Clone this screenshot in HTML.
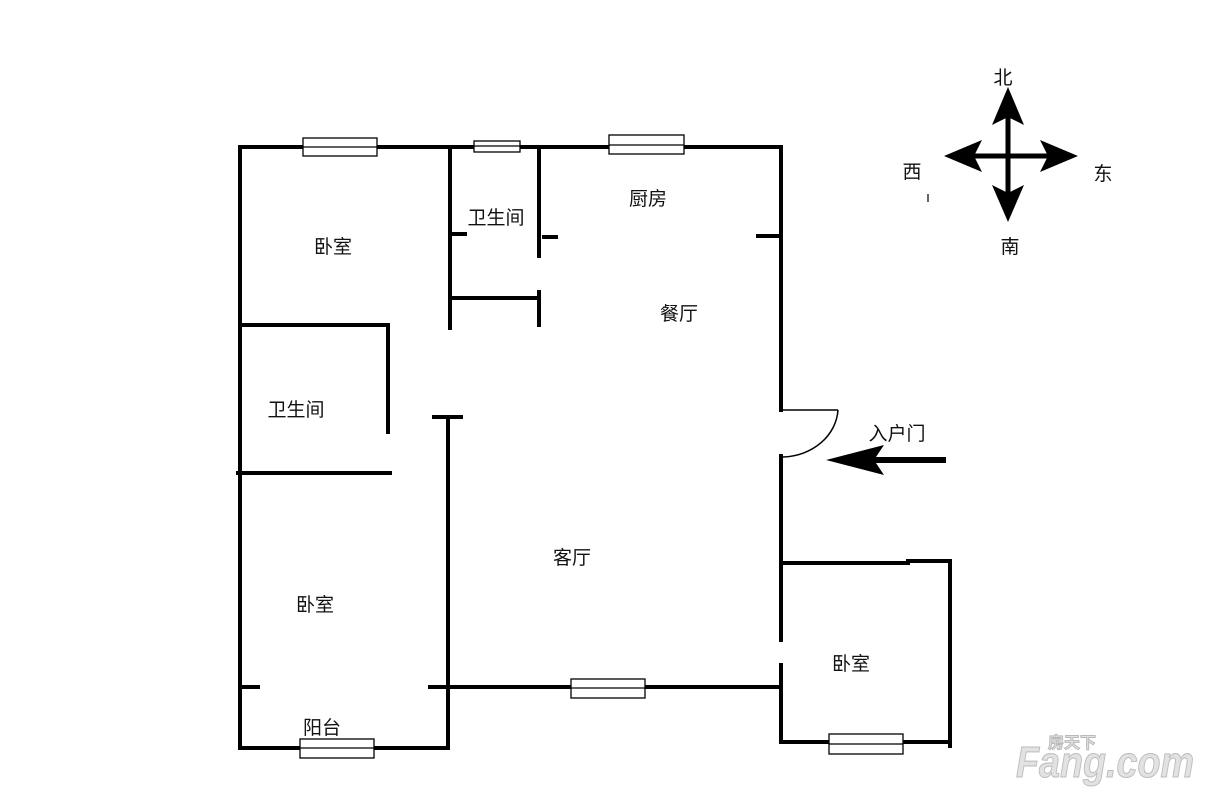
<!DOCTYPE html>
<html><head><meta charset="utf-8"><style>
html,body{margin:0;padding:0;background:#fff;}
svg{display:block}
text{font-family:"Liberation Sans","Noto Sans CJK SC",sans-serif;fill:#111;}
</style></head><body>
<svg width="1212" height="800" viewBox="0 0 1212 800" xmlns="http://www.w3.org/2000/svg">
<g stroke="#000" stroke-width="4" fill="none" stroke-linecap="square">
<line x1="240" y1="147" x2="781" y2="147"/>
<line x1="240" y1="147" x2="240" y2="748"/>
<line x1="450" y1="147" x2="450" y2="328"/>
<line x1="539" y1="147" x2="539" y2="256"/>
<line x1="539" y1="292" x2="539" y2="325"/>
<line x1="450" y1="234" x2="465" y2="234"/>
<line x1="544" y1="237" x2="556" y2="237"/>
<line x1="450" y1="298" x2="539" y2="298"/>
<line x1="781" y1="147" x2="781" y2="410"/>
<line x1="758" y1="236" x2="781" y2="236"/>
<line x1="781" y1="456" x2="781" y2="640"/>
<line x1="781" y1="665" x2="781" y2="742"/>
<line x1="244" y1="325" x2="388" y2="325"/>
<line x1="388" y1="325" x2="388" y2="432"/>
<line x1="238" y1="473" x2="390" y2="473"/>
<line x1="448" y1="417" x2="448" y2="748"/>
<line x1="434" y1="417" x2="461" y2="417"/>
<line x1="240" y1="687" x2="258" y2="687"/>
<line x1="430" y1="687" x2="781" y2="687"/>
<line x1="240" y1="748" x2="448" y2="748"/>
<line x1="781" y1="563" x2="908" y2="563"/>
<line x1="908" y1="561" x2="947" y2="561"/>
<line x1="950" y1="561" x2="950" y2="746"/>
<line x1="781" y1="742" x2="950" y2="742"/>
</g>
<g stroke="#000" stroke-width="1.5" fill="none">
<line x1="781" y1="410" x2="838" y2="410"/>
<path d="M838 410 A57 50 0 0 1 783 457"/>
</g>
<g stroke="#000" stroke-width="1.3" fill="#fff">
<rect x="303" y="138" width="74" height="18"/><line x1="303" y1="147" x2="377" y2="147"/>
<rect x="474" y="141" width="46" height="11"/><line x1="474" y1="146" x2="520" y2="146"/>
<rect x="609" y="135" width="75" height="19"/><line x1="609" y1="145" x2="684" y2="145"/>
<rect x="571" y="679" width="74" height="19"/><line x1="571" y1="688" x2="645" y2="688"/>
<rect x="300" y="739" width="74" height="19"/><line x1="300" y1="748" x2="374" y2="748"/>
<rect x="829" y="734" width="74" height="20"/><line x1="829" y1="744" x2="903" y2="744"/>
</g>
<line x1="870" y1="460" x2="946" y2="460" stroke="#000" stroke-width="6"/>
<polygon points="826,460 884,445 874,460 884,475" fill="#000"/>
<g fill="#000">
<line x1="1008" y1="110" x2="1008" y2="200" stroke="#000" stroke-width="5"/>
<line x1="965" y1="156" x2="1055" y2="156" stroke="#000" stroke-width="5"/>
<polygon points="1008,87 1024,125 1008,117 992,125"/>
<polygon points="1008,222 1024,185 1008,193 992,185"/>
<polygon points="944,156 982,140 974,156 982,172"/>
<polygon points="1078,156 1040,140 1048,156 1040,172"/>
</g>
<line x1="928" y1="194" x2="928" y2="202" stroke="#333" stroke-width="1.5"/>
<g font-size="19">
<text x="1003" y="84" text-anchor="middle">北</text>
<text x="1010" y="253" text-anchor="middle">南</text>
<text x="912" y="178" text-anchor="middle">西</text>
<text x="1103" y="180" text-anchor="middle">东</text>
<text x="333" y="253" text-anchor="middle">卧室</text>
<text x="496" y="224" text-anchor="middle">卫生间</text>
<text x="648" y="205" text-anchor="middle">厨房</text>
<text x="679" y="320" text-anchor="middle">餐厅</text>
<text x="296" y="416" text-anchor="middle">卫生间</text>
<text x="572" y="564" text-anchor="middle">客厅</text>
<text x="315" y="611" text-anchor="middle">卧室</text>
<text x="851" y="670" text-anchor="middle">卧室</text>
<text x="322" y="734" text-anchor="middle">阳台</text>
<text x="897" y="440" text-anchor="middle">入户门</text>
</g>
<g stroke="#bbb" stroke-width="1">
<text x="1016" y="777" font-size="44" font-weight="bold" font-style="italic" textLength="178" lengthAdjust="spacingAndGlyphs" style="fill:#e2e2e2">Fang.com</text>
<text x="1048" y="748" font-size="16" font-weight="bold" style="fill:#e2e2e2">房天下</text>
</g>
</svg>
</body></html>
